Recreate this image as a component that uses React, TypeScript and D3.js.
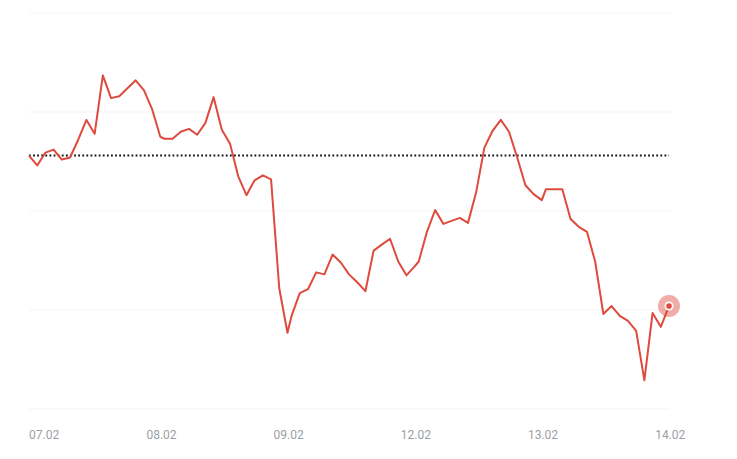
import * as d3 from 'd3';

// intraday prices, one array per session (first session starts with the previous close)
const session1 = [174.56, 174.46, 174.59, 174.62, 174.52, 174.54, 174.72, 174.92, 174.78, 175.37, 175.14, 175.16, 175.24, 175.32, 175.22, 175.03, 174.75];
const session2 = [174.73, 174.73, 174.8, 174.83, 174.77, 174.89, 175.15, 174.82, 174.68, 174.35, 174.16, 174.31, 174.36, 174.32, 173.22, 172.77];
const session3 = [172.94, 173.17, 173.21, 173.38, 173.36, 173.56, 173.48, 173.36, 173.28, 173.19, 173.6, 173.66, 173.72, 173.49, 173.35, 173.44];
const session4 = [173.49, 173.79, 174.01, 173.87, 173.9, 173.93, 173.88, 174.19, 174.64, 174.81, 174.92, 174.8, 174.54, 174.26, 174.17, 174.11];
const session5 = [174.22, 174.22, 174.22, 173.92, 173.84, 173.79, 173.49, 172.96, 173.04, 172.94, 172.89, 172.79, 172.29, 172.97, 172.83, 173.04];

const sessions = [session1, session2, session3, session4, session5];
const tickLabels = ['07.02', '08.02', '09.02', '12.02', '13.02', '14.02'];
const gridValues = [172, 173, 174, 175, 176];
const prevClose = 174.56;

const WIDTH = 737;
const HEIGHT = 459;
const SESSION_LEN = 15.5; // slots per session incl. the short closing bar
const RED = '#de4a3d';

interface Pt {
  u: number;
  v: number;
}

const points: Pt[] = [];
sessions.forEach((s, d) => {
  s.forEach((v, i) => {
    // first session carries the previous close one slot before the open
    const slot = d === 0 ? i - 1 : i;
    points.push({ u: d * SESSION_LEN + slot, v });
  });
});

const App = () => {
  const x = d3.scaleLinear().domain([-1, 77]).range([29, 669]);
  const y = d3.scaleLinear().domain([172, 176]).range([409, 13]);

  const line = d3
    .line<Pt>()
    .x((p) => x(p.u))
    .y((p) => y(p.v));

  const last = points[points.length - 1];
  const [x0, x1] = x.range();

  return (
    <svg
      width={WIDTH}
      height={HEIGHT}
      style={{ position: 'absolute', left: 0, top: 0, display: 'block', background: '#fff' }}
    >
      {gridValues.map((g) => (
        <line key={g} x1={x0} x2={x1 + 1} y1={y(g)} y2={y(g)} stroke="#f3f3f3" strokeWidth={1} />
      ))}

      <line
        x1={x0}
        x2={x1}
        y1={y(prevClose)}
        y2={y(prevClose)}
        stroke="#111"
        strokeWidth={2}
        strokeDasharray="1.8 2.3"
      />

      <path d={line(points) || ''} fill="none" stroke={RED} strokeWidth={2} strokeLinejoin="round" />

      <circle cx={x(last.u)} cy={y(last.v)} r={11} fill={RED} fillOpacity={0.45} />
      <circle cx={x(last.u)} cy={y(last.v)} r={4.5} fill="#fff" />
      <circle cx={x(last.u)} cy={y(last.v)} r={2.8} fill={RED} />

      {tickLabels.map((t, d) => {
        const tu = d * SESSION_LEN - 0.35;
        const first = d === 0;
        return (
          <text
            key={t}
            x={first ? x0 : x(tu)}
            y={439}
            textAnchor={first ? 'start' : 'middle'}
            fontFamily="Roboto, Arial, sans-serif"
            fontSize={12}
            fill="#9b9fa5"
          >
            {t}
          </text>
        );
      })}
    </svg>
  );
};

export default App;
